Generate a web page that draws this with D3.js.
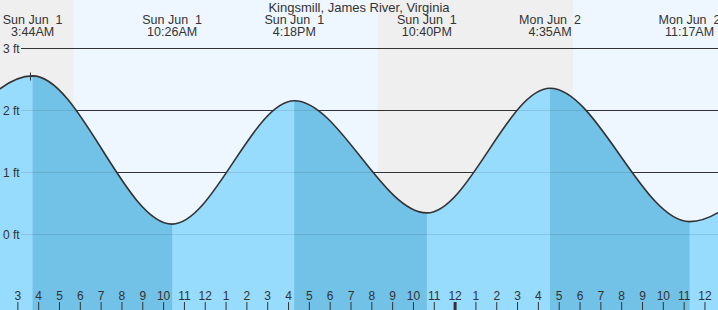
<!DOCTYPE html>
<html>
<head>
<meta charset="utf-8">
<script src="https://cdn.jsdelivr.net/npm/d3@7"></script>
<style>
  html, body { margin: 0; padding: 0; background: #fff; }
  svg { display: block; font-family: "Liberation Sans", Arial, sans-serif; }
  text { white-space: pre; }
</style>
</head>
<body>
<div id="chart"></div>
<script>
// ---- data ----
const title = "Kingsmill, James River, Virginia";
// tide extremes (including one before and one after the visible window)
const extremeTimes = [
  "2025-05-31T21:40", "2025-06-01T03:44", "2025-06-01T10:26", "2025-06-01T16:18",
  "2025-06-01T22:40", "2025-06-02T04:35", "2025-06-02T11:17", "2025-06-02T17:25"
];
const extremeHeights = [0.30, 2.55, 0.16, 2.15, 0.34, 2.35, 0.20, 2.25];
const extremeTypes = ["L", "H", "L", "H", "L", "H", "L", "H"];
const labelDays = ["", "Sun Jun  1", "Sun Jun  1", "Sun Jun  1", "Sun Jun  1", "Mon Jun  2", "Mon Jun  2", ""];
const labelTimes = ["", "3:44AM", "10:26AM", "4:18PM", "10:40PM", "4:35AM", "11:17AM", ""];
// sun: night / day periods
const sunStarts = ["2025-06-01T02:10", "2025-06-01T05:43", "2025-06-01T20:19", "2025-06-02T05:41"];
const sunEnds   = ["2025-06-01T05:43", "2025-06-01T20:19", "2025-06-02T05:41", "2025-06-02T12:39"];
const sunKinds  = ["night", "day", "night", "day"];
const yTicks = [0, 1, 2, 3];
const yTickLabels = ["0 ft", "1 ft", "2 ft", "3 ft"];
const domainStart = "2025-06-01T02:10";
const domainEnd = "2025-06-02T12:39";

// ---- layout ----
const W = 718, H = 310;
const parse = d3.timeParse("%Y-%m-%dT%H:%M");
const x = d3.scaleTime().domain([parse(domainStart), parse(domainEnd)]).range([0, W]);
const y = d3.scaleLinear().domain([0, 3]).range([234, 48]);

const pts = extremeTimes.map((t, i) => ({ t: parse(t), h: extremeHeights[i], type: extremeTypes[i], day: labelDays[i], time: labelTimes[i] }));

const svg = d3.select("#chart").append("svg").attr("width", W).attr("height", H);
const defs = svg.append("defs");

const curve = d3.curveMonotoneX;
const lineGen = d3.line().x(d => x(d.t)).y(d => y(d.h)).curve(curve);
const areaBelow = d3.area().x(d => x(d.t)).y0(H).y1(d => y(d.h)).curve(curve);

defs.append("clipPath").attr("id", "below").append("path").attr("d", areaBelow(pts));
defs.append("clipPath").attr("id", "view").append("rect").attr("width", W).attr("height", H);

const root = svg.append("g").attr("clip-path", "url(#view)");

// backgrounds
root.selectAll("rect.sun").data(sunKinds).enter().append("rect")
  .attr("class", "sun")
  .attr("x", (d, i) => x(parse(sunStarts[i])))
  .attr("width", (d, i) => x(parse(sunEnds[i])) - x(parse(sunStarts[i])))
  .attr("y", 0).attr("height", H)
  .attr("fill", d => d === "night" ? "#efefef" : "#eef7ff");

// dark gridlines (visible above curve)
root.selectAll("line.grid").data(yTicks).enter().append("line")
  .attr("x1", 21).attr("x2", W)
  .attr("y1", d => y(d) + 0.5).attr("y2", d => y(d) + 0.5)
  .attr("stroke", "#333").attr("stroke-width", 1);

// fill under curve
root.append("path").attr("d", areaBelow(pts)).attr("fill", "#97dbfd");

// falling-tide darker bands
const falling = [];
for (let i = 0; i < pts.length - 1; i++) {
  if (pts[i].type === "H") falling.push([pts[i].t, pts[i + 1].t]);
}
root.append("g").attr("clip-path", "url(#below)")
  .selectAll("rect").data(falling).enter().append("rect")
  .attr("x", d => x(d[0])).attr("width", d => x(d[1]) - x(d[0]))
  .attr("y", 0).attr("height", H)
  .attr("fill", "#72c1e6");

// faint gridlines under the water
root.append("g").attr("clip-path", "url(#below)")
  .selectAll("line").data(yTicks).enter().append("line")
  .attr("x1", 21).attr("x2", W)
  .attr("y1", d => y(d) + 0.5).attr("y2", d => y(d) + 0.5)
  .attr("stroke", "#000").attr("stroke-opacity", 0.1);

// tide curve
root.append("path").attr("d", lineGen(pts))
  .attr("fill", "none").attr("stroke", "#333").attr("stroke-width", 1.6);

// marker at first visible high
const first = pts[1];
const mx = Math.round(x(first.t)) - 2.5, my = Math.round(y(first.h)) + 0.5;
root.append("path")
  .attr("d", `M${mx - 4},${my}H${mx + 4}M${mx},${my - 4}V${my + 4}`)
  .attr("stroke", "#333").attr("stroke-width", 1).attr("fill", "none");

// y labels
svg.selectAll("text.ylab").data(yTicks).enter().append("text")
  .attr("x", 3).attr("y", d => y(d) + 4.5)
  .attr("font-size", 12).attr("fill", "#333")
  .text((d, i) => yTickLabels[i]);

// title
svg.append("text").attr("x", W / 2).attr("y", 12)
  .attr("text-anchor", "middle").attr("font-size", 13).attr("fill", "#333")
  .text(title);

// extreme labels
const labeled = pts.filter(d => d.time);
const lg = svg.selectAll("g.elab").data(labeled).enter().append("g")
  .attr("transform", d => `translate(${x(d.t)},0)`);
lg.append("text").attr("y", 24).attr("text-anchor", "middle")
  .attr("font-size", 12.5).attr("fill", "#333").text(d => d.day);
lg.append("text").attr("y", 36).attr("text-anchor", "middle")
  .attr("font-size", 12.5).attr("fill", "#333").text(d => d.time);

// hour axis
const axis = d3.axisTop(x)
  .ticks(d3.timeHour.every(1))
  .tickFormat(d3.timeFormat("%-I"))
  .tickSize(8).tickSizeOuter(0).tickPadding(2);
const ax = svg.append("g").attr("transform", `translate(0,${H})`).call(axis);
ax.select(".domain").remove();
ax.selectAll("text").attr("font-size", 12).attr("fill", "#333")
  .attr("font-family", "Liberation Sans, Arial, sans-serif");
ax.selectAll("line").attr("stroke", "#333")
  .attr("stroke-width", d => d.getHours() === 0 ? 3 : 1);
</script>
</body>
</html>
